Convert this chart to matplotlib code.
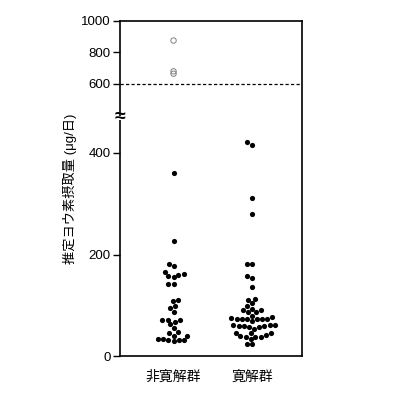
import numpy as np
import matplotlib
matplotlib.use("Agg")
import matplotlib.pyplot as plt
import matplotlib.transforms as mtransforms

plt.rcParams['font.family'] = ['Liberation Sans', 'Noto Sans CJK JP']

groups = ['非寛解群', '寛解群']
non_remission = [361, 226, 182, 178, 165, 159, 155, 161, 158, 142, 142, 110, 108,
                 96, 99, 88, 72, 72, 71, 63, 67, 55, 47, 46, 41, 35, 32, 30, 33,
                 33, 35, 41]
non_remission_out = [875, 680, 665]
remission = [421, 416, 311, 280, 182, 182, 157, 153, 137, 113, 111, 105,
             99, 92, 87, 80, 87, 92, 94,
             74, 74, 74, 69, 75, 77, 74, 74, 74,
             60, 60, 57, 62, 61, 62, 54, 57, 60,
             45, 42, 40, 38, 46, 46, 34, 38, 39,
             24, 24]
y_ticks = [0, 200, 400, 600, 800, 1000]
ylabel = '推定ヨウ素摂取量 (μg/日)'

# broken axis: 0-469 full scale, 600-1000 compressed
B_LO, B_HI, T_HI, UP = 469.0, 600.0, 535.0, 0.31


def fwd(v):
  v = np.asarray(v, float)
  mid = B_LO + (v - B_LO) * (T_HI - B_LO) / (B_HI - B_LO)
  return np.where(v <= B_LO, v, np.where(v >= B_HI, T_HI + (v - B_HI) * UP, mid))


def inv(t):
  t = np.asarray(t, float)
  mid = B_LO + (t - B_LO) * (B_HI - B_LO) / (T_HI - B_LO)
  return np.where(t <= B_LO, t, np.where(t >= T_HI, B_HI + (t - T_HI) / UP, mid))


fig = plt.figure(figsize=(4, 4), dpi=100)
ax = fig.add_axes([0.299, 0.109, 0.457, 0.839])
ax.set_yscale('function', functions=(fwd, inv))
ax.set_ylim(0, 1000)
ax.set_xlim(-0.688, 1.643)


def swarm(values, xc, d):
  pts = ax.transData.transform(np.column_stack([np.full(len(values), xc), values]))
  order = np.argsort(pts[:, 1], kind='stable')
  x0 = pts[0, 0]
  placed = []
  for i in order:
    y = pts[i, 1]
    near = [(px, py) for px, py in placed if abs(py - y) < d]
    cands = [x0]
    for px, py in near:
      dx = np.sqrt(d * d - (py - y) ** 2)
      cands += [px - dx, px + dx]
    cands.sort(key=lambda c: (abs(c - x0), c))
    for c in cands:
      if all((c - px) ** 2 + (y - py) ** 2 >= d * d - 1e-6 for px, py in near):
        placed.append((c, y))
        pts[i, 0] = c
        break
  return ax.transData.inverted().transform(pts)[:, 0]


for k, vals in enumerate([non_remission, remission]):
  xs = swarm(vals, k, 5.3)
  ax.scatter(xs, vals, s=14, color='black', linewidths=0, zorder=3)

ax.scatter(np.zeros(len(non_remission_out)), non_remission_out, s=15,
           facecolors='none', edgecolors='#808080', linewidths=0.7, zorder=3)

ax.axhline(600, color='black', lw=0.9, ls=(0, (2.6, 1.8)), zorder=2)

for s in ax.spines.values():
  s.set_linewidth(1.2)

ax.set_yticks(y_ticks)
ax.set_yticklabels([str(t) for t in y_ticks])
ax.yaxis.set_minor_locator(matplotlib.ticker.NullLocator())
ax.set_xticks([0, 1])
ax.set_xticklabels(groups)
ax.tick_params(axis='y', direction='out', length=5, width=1, labelsize=9.5, pad=1.5)
ax.tick_params(axis='x', length=0, labelsize=10, pad=10)
ax.set_ylabel(ylabel, fontsize=9.5, labelpad=3)

# axis break mark
trans = mtransforms.blended_transform_factory(ax.transAxes, ax.transData)
ax.plot([0, 0], [B_LO - 5, B_LO + 5], transform=trans, color='white', lw=3,
        solid_capstyle='butt', clip_on=False, zorder=4)
ax.text(0, B_LO, '≈', transform=trans, ha='center', va='center', fontsize=14,
        fontweight='bold', clip_on=False, zorder=5)

fig.savefig('out.png', dpi=100)
